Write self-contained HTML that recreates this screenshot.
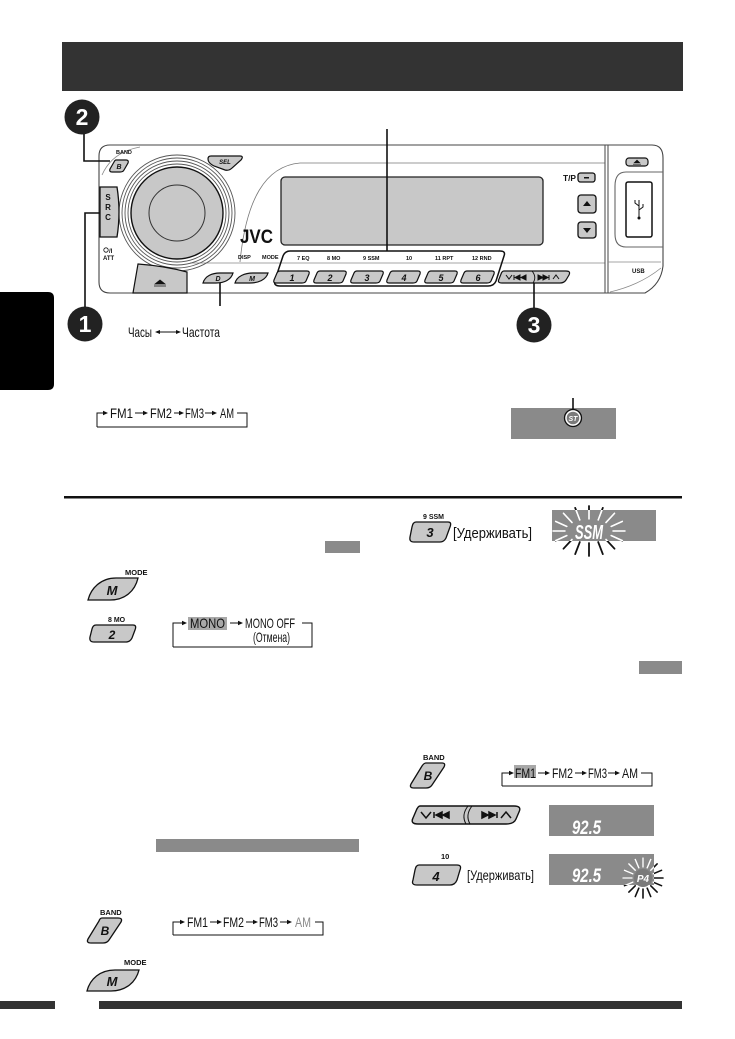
<!DOCTYPE html>
<html><head><meta charset="utf-8">
<style>
html,body{margin:0;padding:0;background:#fff;}
svg{display:block;}
.c{font-family:"Liberation Sans Narrow","Liberation Sans","DejaVu Sans Condensed",sans-serif;fill:#111;}
.t{font-family:"Liberation Sans","DejaVu Sans",sans-serif;font-weight:bold;fill:#111;}
.bi{font-family:"Liberation Sans","DejaVu Sans",sans-serif;font-weight:bold;font-style:italic;}
</style></head>
<body>
<svg width="735" height="1039" viewBox="0 0 735 1039" xmlns="http://www.w3.org/2000/svg">
<defs>
<clipPath id="cs"><rect x="552" y="510" width="104" height="31"/></clipPath>
<clipPath id="cp"><rect x="549" y="854" width="105" height="31"/></clipPath>
</defs>
<rect width="735" height="1039" fill="#fff"/>

<!-- header -->
<rect x="62" y="42" width="621" height="49" fill="#333"/>
<!-- side tab -->
<path d="M0,292 H48 Q54,292 54,298 V384 Q54,390 48,390 H0 Z" fill="#000"/>

<!-- numbered circles -->
<circle cx="82" cy="117" r="17.5" fill="#222"/>
<text x="82" y="125" text-anchor="middle" class="t" font-size="23" style="fill:#fff">2</text>
<circle cx="85" cy="324" r="17.5" fill="#222"/>
<text x="85" y="332" text-anchor="middle" class="t" font-size="23" style="fill:#fff">1</text>
<circle cx="534" cy="325" r="17.5" fill="#222"/>
<text x="534" y="333" text-anchor="middle" class="t" font-size="23" style="fill:#fff">3</text>

<!-- device panel -->
<g fill="none" stroke="#444" stroke-width="1.1">
<path d="M110,145 H652 Q663,145 663,158 V266 Q661,284 645,293 H110 Q99,293 99,282 V156 Q99,145 110,145 Z" fill="#fff"/>
<path d="M605,163 H300 C265,166 246,200 240,262" stroke="#777" stroke-width="0.8"/>
<path d="M190,263 H605" stroke="#888" stroke-width="0.8"/>
<path d="M605,145 V293 M608,145 V293" stroke="#555"/>
<path d="M608,262 H661" stroke="#888" stroke-width="0.8"/>
<path d="M610,292 Q640,285 661,268" stroke="#888" stroke-width="0.8"/>
<path d="M663,172 H626 Q615,172 615,186 V234 Q615,247 626,247 H663" stroke="#666"/>
<path d="M102,175 Q112,152 140,147" stroke="#888" stroke-width="0.8"/>
</g>
<!-- USB slot -->
<rect x="626" y="182" width="26" height="55" rx="2" fill="#fff" stroke="#111" stroke-width="1.5"/>
<g stroke="#111" stroke-width="1" fill="none">
<path d="M639,200 V218 M639,206 L635,203 V200 M639,210 L643,207 V204"/>
</g>
<circle cx="639" cy="218" r="1.5" fill="#111"/>
<rect x="626" y="158" width="22" height="8" rx="3" fill="#c8c8c8" stroke="#111" stroke-width="1.2"/>
<path d="M634,163 L637,160 L640,163 Z M633,164.5 H641" fill="#111" stroke="#111" stroke-width="0.6"/>
<text x="632" y="273" class="t" font-size="6">USB</text>

<!-- display -->
<rect x="281" y="177" width="262" height="68" rx="4" fill="#c8c8c8" stroke="#222" stroke-width="1.3"/>
<!-- JVC -->
<text x="240" y="243" class="t" font-size="19" textLength="33" lengthAdjust="spacingAndGlyphs">JVC</text>

<!-- T/P & arrows -->
<text x="563" y="181" class="t" font-size="8" textLength="13" lengthAdjust="spacingAndGlyphs">T/P</text>
<rect x="578" y="173" width="17" height="9" rx="2.5" fill="#c8c8c8" stroke="#111" stroke-width="1.3"/>
<rect x="584" y="177" width="5" height="1.5" fill="#111"/>
<rect x="578" y="195" width="18" height="18" rx="3" fill="#c8c8c8" stroke="#111" stroke-width="1.3"/>
<path d="M583,206 L587,201 L591,206 Z" fill="#111"/>
<rect x="578" y="222" width="18" height="16" rx="3" fill="#c8c8c8" stroke="#111" stroke-width="1.3"/>
<path d="M583,228 L587,233 L591,228 Z" fill="#111"/>

<!-- knob -->
<g fill="none" stroke="#555" stroke-width="0.9">
<circle cx="177" cy="213" r="58"/>
<circle cx="177" cy="213" r="55"/>
<circle cx="177" cy="213" r="52"/>
<circle cx="177" cy="213" r="49"/>
</g>
<circle cx="177" cy="213" r="46" fill="#c8c8c8" stroke="#111" stroke-width="1.4"/>
<circle cx="177" cy="213" r="28" fill="none" stroke="#333" stroke-width="1"/>

<!-- SRC -->
<path d="M100,187 H117 Q121,212 117,237 H100 Z" fill="#c8c8c8" stroke="#111" stroke-width="1.3"/>
<text x="108" y="200" text-anchor="middle" class="t" font-size="8">S</text>
<text x="108" y="210" text-anchor="middle" class="t" font-size="8">R</text>
<text x="108" y="220" text-anchor="middle" class="t" font-size="8">C</text>

<!-- BAND small -->
<text x="116" y="154" class="t" font-size="5.5">BAND</text>
<path d="M116,160 H126 Q129,160 128,163 L124,170 Q123,172 120,172 H112 Q109,172 110,169 L114,162 Q115,160 116,160 Z" fill="#c8c8c8" stroke="#111" stroke-width="1.2"/>
<text x="119" y="169" text-anchor="middle" class="bi" font-size="7" fill="#111">B</text>
<!-- SEL -->
<path d="M211,156 H240 Q244,156 241,160 L232,168 Q229,171 225,170 L214,166 Q208,163 208,159 Q208,156 211,156 Z" fill="#c8c8c8" stroke="#111" stroke-width="1.2"/>
<text x="225" y="164" text-anchor="middle" class="bi" font-size="6" fill="#111">SEL</text>

<!-- power -->
<circle cx="106" cy="250" r="2.2" fill="none" stroke="#111" stroke-width="0.8"/>
<text x="109" y="253" class="t" font-size="6">/I</text>
<text x="103" y="260" class="t" font-size="6">ATT</text>

<!-- lower eject -->
<path d="M133,293 L138,264 Q165,266 187,272 V293 Z" fill="#c8c8c8" stroke="#111" stroke-width="1.2"/>
<path d="M155,284 L160,280 L165,284 Z M154,286 H166" fill="#111" stroke="#111" stroke-width="0.8"/>

<!-- DISP / MODE -->
<text x="238" y="259" class="t" font-size="5.5">DISP</text>
<text x="262" y="259" class="t" font-size="5.5">MODE</text>
<path d="M203,283 C205,276 212,273 220,273 H233 C231,280 224,283 216,283 Z" fill="#c8c8c8" stroke="#111" stroke-width="1.2"/>
<text x="218" y="281" text-anchor="middle" class="bi" font-size="7" fill="#111">D</text>
<path d="M235,283 C237,276 245,273 253,273 H268 C266,280 258,283 250,283 Z" fill="#c8c8c8" stroke="#111" stroke-width="1.2"/>
<text x="252" y="281" text-anchor="middle" class="bi" font-size="7" fill="#111">M</text>

<!-- preset box -->
<path d="M290,251 H500 Q506,251 504,256 L496,281 Q494,286 488,286 H280 Q273,286 275,280 L283,256 Q285,251 290,251 Z" fill="none" stroke="#111" stroke-width="1.5"/>
<g class="t" font-size="5.5">
<text x="297" y="260">7  EQ</text>
<text x="327" y="260">8  MO</text>
<text x="363" y="260">9  SSM</text>
<text x="406" y="260">10</text>
<text x="435" y="260">11  RPT</text>
<text x="472" y="260">12  RND</text>
</g>
<g fill="#c8c8c8" stroke="#111" stroke-width="1.2">
<path d="M280,271 H307 Q310,271 309,274 L306,281 Q305,283 302,283 H276 Q273,283 274,280 L277,273 Q278,271 280,271 Z"/>
<path d="M320,271 H344 Q347,271 346,274 L343,281 Q342,283 339,283 H316 Q313,283 314,280 L317,273 Q318,271 320,271 Z"/>
<path d="M357,271 H381 Q384,271 383,274 L380,281 Q379,283 376,283 H353 Q350,283 351,280 L354,273 Q355,271 357,271 Z"/>
<path d="M393,271 H418 Q421,271 420,274 L417,281 Q416,283 413,283 H389 Q386,283 387,280 L390,273 Q391,271 393,271 Z"/>
<path d="M431,271 H455 Q458,271 457,274 L454,281 Q453,283 450,283 H427 Q424,283 425,280 L428,273 Q429,271 431,271 Z"/>
<path d="M467,271 H492 Q495,271 494,274 L491,281 Q490,283 487,283 H463 Q460,283 461,280 L464,273 Q465,271 467,271 Z"/>
</g>
<g class="bi" font-size="9" text-anchor="middle" fill="#111">
<text x="292" y="281">1</text>
<text x="330" y="281">2</text>
<text x="367" y="281">3</text>
<text x="404" y="281">4</text>
<text x="441" y="281">5</text>
<text x="478" y="281">6</text>
</g>
<!-- small seek -->
<path d="M504,271 H566 Q571,271 569,275 L566,280 Q564,283 560,283 H502 Q497,283 499,279 L501,274 Q502,271 504,271 Z" fill="#c8c8c8" stroke="#111" stroke-width="1.2"/>
<path d="M532,271 Q537,277 533,283" fill="none" stroke="#111" stroke-width="0.9"/>
<g stroke="#111" stroke-width="1" fill="#111">
<path d="M506,275 L509,279 L512,275" fill="none"/>
<path d="M514,275 V280 M520,275 L515,277.5 L520,280 Z M526,275 L521,277.5 L526,280 Z"/>
<path d="M538,275 L543,277.5 L538,280 Z M543,275 L548,277.5 L543,280 Z M549,275 V280"/>
<path d="M553,279 L556,275 L559,279" fill="none"/>
</g>

<!-- Часы <-> Частота -->
<text x="128" y="337" class="c" font-size="14" textLength="24" lengthAdjust="spacingAndGlyphs">Часы</text>
<path d="M159,332 H177" stroke="#111" stroke-width="1"/>
<path d="M155,332 L160,330 L160,334 Z M181,332 L176,330 L176,334 Z" fill="#111"/>
<text x="182" y="337" class="c" font-size="14" textLength="38" lengthAdjust="spacingAndGlyphs">Частота</text>

<!-- top FM chain -->
<g stroke="#111" stroke-width="1" fill="none">
<path d="M97,427 V413 H104"/>
<path d="M135,413 H144 M174,413 H180 M205,413 H213"/>
<path d="M237,413 H247 V427 H97"/>
</g>
<g fill="#111">
<path d="M103,410.8 L108,413 L103,415.2 Z M143,410.8 L148,413 L143,415.2 Z M179,410.8 L184,413 L179,415.2 Z M212,410.8 L217,413 L212,415.2 Z"/>
</g>
<g class="c" font-size="14">
<text x="110" y="418" textLength="23" lengthAdjust="spacingAndGlyphs">FM1</text>
<text x="150" y="418" textLength="22" lengthAdjust="spacingAndGlyphs">FM2</text>
<text x="185" y="418" textLength="19" lengthAdjust="spacingAndGlyphs">FM3</text>
<text x="220" y="418" textLength="14" lengthAdjust="spacingAndGlyphs">AM</text>
</g>

<!-- ST display -->
<rect x="511" y="408" width="105" height="31" fill="#8a8a8a"/>
<circle cx="573" cy="418" r="8.5" fill="none" stroke="#111" stroke-width="1.3"/>
<circle cx="573" cy="418" r="7" fill="#7a7a7a" stroke="#fff" stroke-width="1.4"/>
<text x="573" y="421" text-anchor="middle" class="bi" font-size="7" style="fill:#fff">ST</text>

<!-- separator -->
<rect x="64" y="496" width="618" height="2.5" fill="#111"/>

<!-- SSM row -->
<text x="423" y="519" class="t" font-size="7">9  SSM</text>
<path d="M416,522 H448 Q452,522 450,527 L446,538 Q444,542 440,542 H414 Q409,542 410,537 L412,527 Q413,522 416,522 Z" fill="#c8c8c8" stroke="#111" stroke-width="1.3"/>
<text x="430" y="537" text-anchor="middle" class="bi" font-size="13" fill="#111">3</text>
<text x="453" y="538" class="c" font-size="15" textLength="79" lengthAdjust="spacingAndGlyphs">[Удерживать]</text>
<rect x="552" y="510" width="104" height="31" fill="#8a8a8a"/>
<path d="M613,531 L625,531 M611.2,526.4 L622.3,521.4 M606,522.5 L614.5,513.3 M598.2,519.9 L602.8,507.9 M589,519 L589,506 M579.8,519.9 L575.2,507.9 M572,522.5 L563.5,513.3 M566.8,526.4 L555.7,521.4 M565,531 L553,531 M566.8,535.6 L555.7,540.6 M572,539.5 L563.5,548.7 M579.8,542.1 L575.2,554.1 M589,543 L589,556 M598.2,542.1 L602.8,554.1 M606,539.5 L614.5,548.7 M611.2,535.6 L622.3,540.6" stroke="#111" stroke-width="1.8" stroke-linecap="round"/>
<path clip-path="url(#cs)" d="M613,531 L625,531 M611.2,526.4 L622.3,521.4 M606,522.5 L614.5,513.3 M598.2,519.9 L602.8,507.9 M589,519 L589,506 M579.8,519.9 L575.2,507.9 M572,522.5 L563.5,513.3 M566.8,526.4 L555.7,521.4 M565,531 L553,531 M566.8,535.6 L555.7,540.6 M572,539.5 L563.5,548.7 M579.8,542.1 L575.2,554.1 M589,543 L589,556 M598.2,542.1 L602.8,554.1 M606,539.5 L614.5,548.7 M611.2,535.6 L622.3,540.6" stroke="#fff" stroke-width="1.8" stroke-linecap="round"/>
<text x="575" y="539" class="bi" font-size="20" textLength="28" lengthAdjust="spacingAndGlyphs" style="fill:#fff">SSM</text>

<!-- small gray bars -->
<rect x="325" y="541" width="35" height="12" fill="#8a8a8a"/>
<rect x="639" y="661" width="43" height="13" fill="#8a8a8a"/>
<rect x="156" y="839" width="203" height="13" fill="#8a8a8a"/>

<!-- MODE button -->
<text x="125" y="575" class="t" font-size="7.5">MODE</text>
<path d="M88,600 C91,588 101,578 116,578 H138 C135,591 125,600 110,600 Z" fill="#c8c8c8" stroke="#111" stroke-width="1.3"/>
<text x="112" y="595" text-anchor="middle" class="bi" font-size="13" fill="#111">M</text>

<!-- 8 MO / 2 button -->
<text x="108" y="622" class="t" font-size="7">8  MO</text>
<path d="M96,625 H133 Q137,625 135,630 L132,638 Q130,642 126,642 H94 Q89,642 90,637 L92,629 Q93,625 96,625 Z" fill="#c8c8c8" stroke="#111" stroke-width="1.3"/>
<text x="112" y="639" text-anchor="middle" class="bi" font-size="12" fill="#111">2</text>

<!-- MONO chain -->
<rect x="188" y="617" width="39" height="13" fill="#a8a8a8"/>
<g stroke="#111" stroke-width="1" fill="none">
<path d="M173,647 V623 H183"/>
<path d="M230,623 H239"/>
<path d="M302,623 H312 V647 H173"/>
</g>
<path d="M182,620.8 L187,623 L182,625.2 Z M238,620.8 L243,623 L238,625.2 Z" fill="#111"/>
<g class="c" font-size="14">
<text x="190" y="628" textLength="35" lengthAdjust="spacingAndGlyphs">MONO</text>
<text x="245" y="628" textLength="50" lengthAdjust="spacingAndGlyphs">MONO OFF</text>
<text x="253" y="642" textLength="37" lengthAdjust="spacingAndGlyphs">(Отмена)</text>
</g>

<!-- right BAND -->
<text x="423" y="760" class="t" font-size="7.5">BAND</text>
<path d="M426,763 H442 Q446,763 444,767 L432,785 Q430,788 426,788 H414 Q409,788 411,784 L422,766 Q424,763 426,763 Z" fill="#c8c8c8" stroke="#111" stroke-width="1.3"/>
<text x="428" y="780" text-anchor="middle" class="bi" font-size="12" fill="#111">B</text>
<rect x="514" y="765" width="22" height="13" fill="#a8a8a8"/>
<g stroke="#111" stroke-width="1" fill="none">
<path d="M502,786 V773 H509"/>
<path d="M538,773 H546 M575,773 H583 M608,773 H616"/>
<path d="M641,773 H652 V786 H502"/>
</g>
<path d="M509,770.8 L514,773 L509,775.2 Z M545,770.8 L550,773 L545,775.2 Z M582,770.8 L587,773 L582,775.2 Z M615,770.8 L620,773 L615,775.2 Z" fill="#111"/>
<g class="c" font-size="14">
<text x="515" y="778" textLength="21" lengthAdjust="spacingAndGlyphs">FM1</text>
<text x="552" y="778" textLength="21" lengthAdjust="spacingAndGlyphs">FM2</text>
<text x="588" y="778" textLength="19" lengthAdjust="spacingAndGlyphs">FM3</text>
<text x="622" y="778" textLength="16" lengthAdjust="spacingAndGlyphs">AM</text>
</g>

<!-- big seek button -->
<path d="M420,806 H514 Q522,806 519,812 L516,819 Q514,824 506,824 H418 Q410,824 413,818 L416,811 Q418,806 420,806 Z" fill="#c8c8c8" stroke="#111" stroke-width="1.4"/>
<path d="M468,806 Q461,815 466,824 M472,806 Q465,815 470,824" fill="none" stroke="#111" stroke-width="1"/>
<g stroke="#111" stroke-width="1.5" fill="#111">
<path d="M421,812 L426,818 L431,812" fill="none"/>
<path d="M434,812 V818 M442,812 L436,815 L442,818 Z M449,812 L443,815 L449,818 Z"/>
<path d="M482,812 L488,815 L482,818 Z M489,812 L495,815 L489,818 Z M497,812 V818"/>
<path d="M501,818 L506,812 L511,818" fill="none"/>
</g>
<rect x="549" y="805" width="105" height="31" fill="#8a8a8a"/>
<text x="572" y="834" class="bi" font-size="19" textLength="29" lengthAdjust="spacingAndGlyphs" style="fill:#fff">92.5</text>

<!-- 10 / 4 -->
<text x="441" y="859" class="t" font-size="7.5">10</text>
<path d="M419,865 H457 Q462,865 460,870 L457,880 Q455,885 450,885 H417 Q411,885 413,880 L415,870 Q416,865 419,865 Z" fill="#c8c8c8" stroke="#111" stroke-width="1.3"/>
<text x="436" y="881" text-anchor="middle" class="bi" font-size="13" fill="#111">4</text>
<text x="467" y="880" class="c" font-size="14" textLength="67" lengthAdjust="spacingAndGlyphs">[Удерживать]</text>
<rect x="549" y="854" width="105" height="31" fill="#8a8a8a"/>
<text x="572" y="882" class="bi" font-size="19" textLength="29" lengthAdjust="spacingAndGlyphs" style="fill:#fff">92.5</text>
<path d="M654,878 L663,878 M653.2,873.8 L661.5,870.3 M650.8,870.2 L657.1,863.9 M647.2,867.8 L650.7,859.5 M643,867 L643,858 M638.8,867.8 L635.3,859.5 M635.2,870.2 L628.9,863.9 M632.8,873.8 L624.5,870.3 M632,878 L623,878 M632.8,882.2 L624.5,885.7 M635.2,885.8 L628.9,892.1 M638.8,888.2 L635.3,896.5 M643,889 L643,898 M647.2,888.2 L650.7,896.5 M650.8,885.8 L657.1,892.1 M653.2,882.2 L661.5,885.7" stroke="#111" stroke-width="1.6" stroke-linecap="round"/>
<path clip-path="url(#cp)" d="M654,878 L663,878 M653.2,873.8 L661.5,870.3 M650.8,870.2 L657.1,863.9 M647.2,867.8 L650.7,859.5 M643,867 L643,858 M638.8,867.8 L635.3,859.5 M635.2,870.2 L628.9,863.9 M632.8,873.8 L624.5,870.3 M632,878 L623,878 M632.8,882.2 L624.5,885.7 M635.2,885.8 L628.9,892.1 M638.8,888.2 L635.3,896.5 M643,889 L643,898 M647.2,888.2 L650.7,896.5 M650.8,885.8 L657.1,892.1 M653.2,882.2 L661.5,885.7" stroke="#fff" stroke-width="1.6" stroke-linecap="round"/>
<circle cx="643" cy="878" r="9" fill="#7a7a7a"/>
<text x="643" y="882" text-anchor="middle" class="bi" font-size="10" style="fill:#fff">P4</text>

<!-- bottom-left BAND -->
<text x="100" y="915" class="t" font-size="7.5">BAND</text>
<path d="M102,918 H118 Q123,918 121,922 L109,940 Q107,943 103,943 H91 Q86,943 88,939 L99,921 Q100,918 102,918 Z" fill="#c8c8c8" stroke="#111" stroke-width="1.3"/>
<text x="105" y="935" text-anchor="middle" class="bi" font-size="12" fill="#111">B</text>
<g stroke="#111" stroke-width="1" fill="none">
<path d="M173,935 V922 H181"/>
<path d="M210,922 H218 M246,922 H254 M280,922 H288"/>
<path d="M315,922 H323 V935 H173"/>
</g>
<path d="M180,919.8 L185,922 L180,924.2 Z M217,919.8 L222,922 L217,924.2 Z M253,919.8 L258,922 L253,924.2 Z M287,919.8 L292,922 L287,924.2 Z" fill="#111"/>
<g class="c" font-size="14">
<text x="187" y="927" textLength="21" lengthAdjust="spacingAndGlyphs">FM1</text>
<text x="223" y="927" textLength="21" lengthAdjust="spacingAndGlyphs">FM2</text>
<text x="259" y="927" textLength="19" lengthAdjust="spacingAndGlyphs">FM3</text>
<text x="295" y="927" textLength="16" lengthAdjust="spacingAndGlyphs" style="fill:#8a8a8a">AM</text>
</g>

<!-- bottom MODE -->
<text x="124" y="965" class="t" font-size="7.5">MODE</text>
<path d="M87,991 C90,979 100,970 115,970 H139 C136,982 126,991 111,991 Z" fill="#c8c8c8" stroke="#111" stroke-width="1.3"/>
<text x="112" y="986" text-anchor="middle" class="bi" font-size="13" fill="#111">M</text>

<!-- bottom bars -->
<rect x="0" y="1001" width="55" height="8" fill="#333"/>
<rect x="99" y="1001" width="583" height="8" fill="#333"/>

<!-- leaders (drawn last so they sit on top) -->
<g stroke="#111" stroke-width="1.6" fill="none">
<path d="M84,134 V161 H110"/>
<path d="M100,213 H85 V307"/>
<path d="M387,129 V251"/>
<path d="M220,283 V306"/>
<path d="M534,283 V308"/>
<path d="M573,398 V410"/>
</g>
</svg>
</body></html>
